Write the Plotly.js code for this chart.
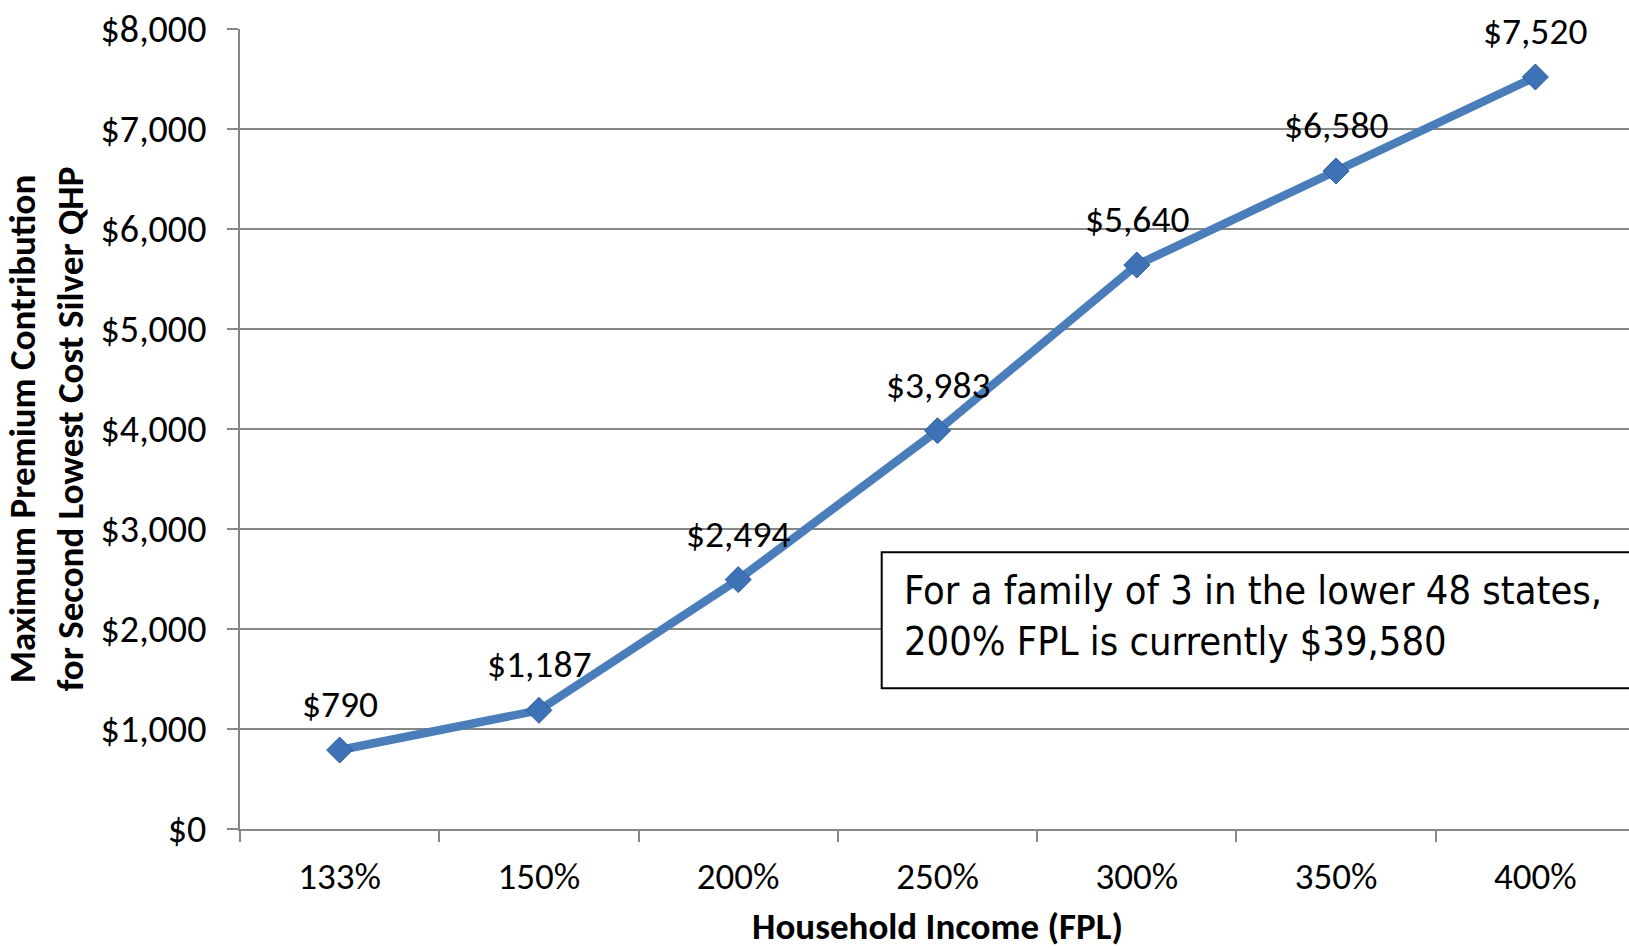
<!DOCTYPE html>
<html>
<head>
<meta charset="utf-8">
<script src="https://cdn.plot.ly/plotly-3.0.1.min.js"></script>
<style>html,body{margin:0;padding:0;overflow:hidden;background:#fff;}</style>
</head>
<body>
<div id="chart"></div>
<script>
const categories = ["133%", "150%", "200%", "250%", "300%", "350%", "400%"];
const values = [790, 1187, 2494, 3983, 5640, 6580, 7520];
const yTickVals = [0, 1000, 2000, 3000, 4000, 5000, 6000, 7000, 8000];
const yTickText = ["$0", "$1,000", "$2,000", "$3,000", "$4,000", "$5,000", "$6,000", "$7,000", "$8,000"];
const noteText = "For a family of 3 in the lower 48 states,<br>200% FPL is currently $39,580";
const yTitle = "Maximum Premium Contribution<br>for Second Lowest Cost Silver QHP";
const xTitle = "Household Income (FPL)";

const baseFont = "Carlito, Lato, sans-serif";
const grid = "#878787";

const trace = {
  x: categories,
  y: values,
  type: "scatter",
  mode: "lines+markers",
  line: {color: "#4a7ebb", width: 8.5},
  marker: {symbol: "diamond", size: 20, color: "#3d72b6", line: {color: "#2f5e9c", width: 1}},
  hoverinfo: "skip"
};

const labelAnns = categories.map((c, i) => ({
  x: c, y: values[i], xref: "x", yref: "y",
  text: "$" + values[i].toLocaleString("en-US"),
  showarrow: false, yshift: 46,
  font: {family: baseFont, size: 37.5, color: "#000"}
}));

labelAnns.push({
  xref: "paper", yref: "paper", x: 0.4746, y: 0.2675,
  xanchor: "left", yanchor: "middle", align: "left",
  text: noteText, showarrow: false,
  font: {family: "'Liberation Sans Narrow', 'DejaVu Sans Condensed', Roboto, sans-serif", size: 39.5, color: "#000"}
});

const layout = {
  width: 1640, height: 949,
  margin: {l: 240, r: 5, t: 29, b: 120},
  paper_bgcolor: "#fff", plot_bgcolor: "#fff",
  showlegend: false,
  xaxis: {
    type: "category", range: [-0.5, 6.5],
    tickson: "boundaries", ticks: "outside", ticklen: 11, tickcolor: grid, tickwidth: 2,
    showline: true, linecolor: grid, linewidth: 2,
    showgrid: false, zeroline: false,
    tickfont: {family: baseFont, size: 37, color: "#000"},
    ticklabelstandoff: 14,
    title: {text: xTitle, font: {family: baseFont, size: 37, color: "#000", weight: "bold"}, standoff: 29}
  },
  yaxis: {
    range: [0, 8000], tickvals: yTickVals, ticktext: yTickText,
    ticks: "outside", ticklen: 11, tickcolor: grid, tickwidth: 2,
    showline: true, linecolor: grid, linewidth: 2,
    showgrid: true, gridcolor: grid, gridwidth: 2, zeroline: false,
    tickfont: {family: baseFont, size: 38, color: "#000"},
    ticklabelstandoff: 13,
    title: {text: yTitle, font: {family: baseFont, size: 37, color: "#000", weight: "bold"}, standoff: 11}
  },
  shapes: [{
    type: "rect", xref: "paper", yref: "paper", layer: "above",
    x0: 0.460, x1: 1.2, y0: 0.176, y1: 0.346,
    line: {color: "#000", width: 2}, fillcolor: "#fff"
  }],
  annotations: labelAnns
};

Plotly.newPlot("chart", [trace], layout, {displayModeBar: false, staticPlot: true});
</script>
</body>
</html>
